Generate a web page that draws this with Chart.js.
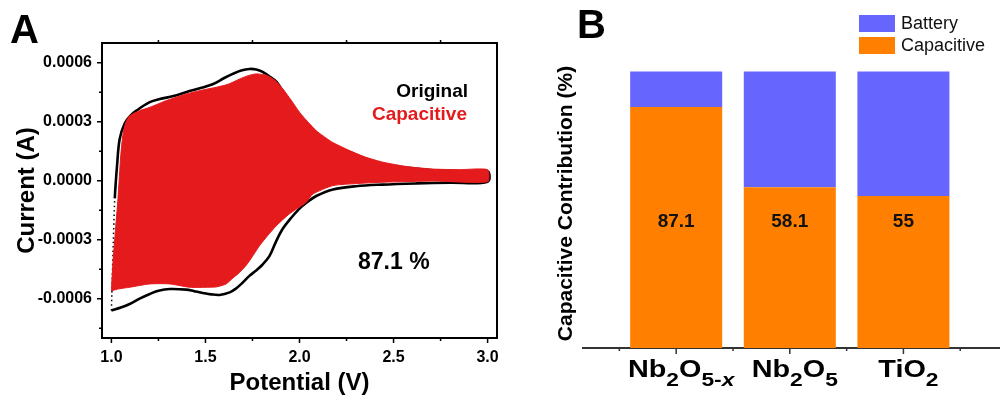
<!DOCTYPE html>
<html>
<head>
<meta charset="utf-8">
<script src="https://cdn.jsdelivr.net/npm/chart.js@4.4.1/dist/chart.umd.min.js"></script>
<style>
  html, body { margin: 0; padding: 0; background: #fff; }
  #wrap { position: relative; width: 1000px; height: 399px; overflow: hidden; }
  canvas { position: absolute; top: 0; }
  #cvA { left: 0; }
  #cvB { left: 510px; }
</style>
</head>
<body>
<div id="wrap">
  <canvas id="cvA" width="510" height="399"></canvas>
  <canvas id="cvB" width="490" height="399"></canvas>
</div>
<script>
// Panel A - CV loop: measured (original) current and the capacitive part
const origPotential = [1.000, 1.006, 1.012, 1.018, 1.030, 1.044, 1.071, 1.100, 1.133, 1.204, 1.257, 1.330, 1.400,
  1.470, 1.538, 1.600, 1.645, 1.690, 1.735, 1.770, 1.804, 1.840, 1.878, 1.920, 1.963, 2.010, 2.054, 2.107, 2.180,
  2.266, 2.350, 2.442, 2.530, 2.622, 2.710, 2.798, 2.900, 3.000,
  3.000, 2.800, 2.620, 2.440, 2.300, 2.178, 2.089, 2.040, 2.000, 1.955, 1.910, 1.875, 1.840, 1.800, 1.765, 1.735,
  1.691, 1.660, 1.629, 1.575, 1.530, 1.487, 1.440, 1.398, 1.310, 1.250, 1.204, 1.150, 1.097, 1.050, 1.000];
const origCurrent = [-0.00066, -0.00045, -0.00025, -0.00009, 0.000076, 0.000212, 0.000292, 0.00033, 0.000356,
  0.000399, 0.000415, 0.00043, 0.000451, 0.00047, 0.00049, 0.000522, 0.000543, 0.00056, 0.000568, 0.000565,
  0.000553, 0.00053, 0.000502, 0.00044, 0.00038, 0.00032, 0.000278, 0.000227, 0.00018, 0.000146, 0.000112,
  0.000085, 0.00007, 0.00006, 0.000053, 0.000049, 0.000048, 0.000048,
  -0.000005, -0.00001, -0.000014, -0.00002, -0.000028, -0.000045, -0.000078, -0.00011, -0.000142, -0.00019,
  -0.000246, -0.00031, -0.000384, -0.00043, -0.00046, -0.000483, -0.000525, -0.00055, -0.000568, -0.000581,
  -0.000578, -0.000571, -0.000562, -0.000554, -0.000551, -0.00056, -0.000576, -0.0006, -0.000627, -0.000645, -0.00066];

const capPotential = [1.000, 1.008, 1.020, 1.035, 1.050, 1.062, 1.078, 1.097, 1.150, 1.204, 1.300, 1.398, 1.480,
  1.558, 1.620, 1.682, 1.730, 1.770, 1.824, 1.870, 1.912, 1.955, 2.000, 2.045, 2.089, 2.170, 2.266, 2.350, 2.443,
  2.570, 2.709, 2.850, 3.000,
  3.000, 2.720, 2.443, 2.300, 2.178, 2.071, 2.036, 1.946, 1.877, 1.830, 1.788, 1.750, 1.717, 1.680, 1.646, 1.610,
  1.560, 1.522, 1.416, 1.310, 1.204, 1.097, 1.040, 1.000];
const capCurrent = [-0.00056, -0.00042, -0.00027, -0.00009, 0.00013, 0.00024, 0.0003, 0.00033, 0.000356, 0.000373,
  0.00041, 0.000441, 0.00046, 0.000475, 0.00049, 0.000517, 0.000535, 0.000543, 0.000536, 0.00051, 0.000466,
  0.00041, 0.000348, 0.000298, 0.000254, 0.000198, 0.000153, 0.00012, 0.000094, 0.000072, 0.000059, 0.000056,
  0.000056,
  -0.000006, -0.000002, -0.000008, -0.000015, -0.000025, -0.000068, -0.00011, -0.000169, -0.000229, -0.00028,
  -0.00033, -0.000385, -0.00043, -0.000468, -0.000495, -0.000525, -0.00054, -0.000542, -0.000542, -0.000525,
  -0.000525, -0.000542, -0.00055, -0.00056];

const potentialTicks = [1.0, 1.5, 2.0, 2.5, 3.0];
const currentTicks = [-0.0006, -0.0003, 0, 0.0003, 0.0006];

// Panel B - share of capacitive vs battery-type charge storage (%)
const materials = ['Nb2O5-x', 'Nb2O5', 'TiO2'];
const capacitive = [87.1, 58.1, 55];
const battery = [12.9, 41.9, 45];

const FONT = "'Liberation Sans', Arial, Helvetica, sans-serif";
const RED = '#E41A1C';
const ORANGE = '#FF8000';
const BLUE = '#6666FF';

Chart.defaults.font.family = FONT;
Chart.defaults.color = '#000';

const zipXY = (xs, ys) => xs.map((x, i) => ({x, y: ys[i]}));

// minor ticks halfway between the labelled ones
function minorTicks(major, min, max) {
  const step = major[1] - major[0];
  const out = [];
  for (let v = major[0] - step / 2; v <= max + 1e-12; v += step) {
    if (v >= min - 1e-12 && !major.some(m => Math.abs(m - v) < step / 10)) out.push(v);
  }
  return out;
}

const frameA = {
  id: 'frameA',
  afterDatasetsDraw(chart) {
    const {ctx, chartArea: a, scales: {x, y}} = chart;
    ctx.save();
    ctx.strokeStyle = '#000';
    ctx.lineWidth = 2;
    ctx.strokeRect(a.left, a.top, a.right - a.left, a.bottom - a.top);

    ctx.lineWidth = 1.5;
    ctx.beginPath();
    potentialTicks.forEach(v => {
      const px = x.getPixelForValue(v);
      ctx.moveTo(px, a.bottom); ctx.lineTo(px, a.bottom + 5);
    });
    minorTicks(potentialTicks, x.min, x.max).forEach(v => {
      const px = x.getPixelForValue(v);
      ctx.moveTo(px, a.bottom); ctx.lineTo(px, a.bottom + 3);
      ctx.moveTo(px, a.top); ctx.lineTo(px, a.top - 3);
    });
    currentTicks.forEach(v => {
      const py = y.getPixelForValue(v);
      ctx.moveTo(a.left, py); ctx.lineTo(a.left - 5, py);
    });
    minorTicks(currentTicks, y.min, y.max).forEach(v => {
      const py = y.getPixelForValue(v);
      ctx.moveTo(a.left, py); ctx.lineTo(a.left - 3, py);
    });
    ctx.stroke();
    ctx.restore();
  },
  afterDraw(chart) {
    const {ctx} = chart;
    ctx.save();
    ctx.textBaseline = 'alphabetic';
    ctx.fillStyle = '#000';
    ctx.font = `bold 40px ${FONT}`;
    ctx.textAlign = 'left';
    ctx.fillText('A', 10, 43);

    ctx.font = `bold 19px ${FONT}`;
    ctx.textAlign = 'right';
    ctx.fillText(chart.data.datasets[1].label, 468, 97);
    ctx.fillStyle = RED;
    ctx.fillText(chart.data.datasets[0].label, 467, 120);

    ctx.fillStyle = '#000';
    ctx.font = `bold 23px ${FONT}`;
    ctx.textAlign = 'left';
    ctx.fillText(`${capacitive[0]} %`, 358, 269);
    ctx.restore();
  }
};

new Chart(document.getElementById('cvA'), {
  type: 'line',
  data: {
    datasets: [
      {
        label: 'Capacitive',
        data: zipXY(capPotential, capCurrent),
        borderColor: RED,
        borderWidth: 1,
        backgroundColor: RED,
        fill: 'shape',
        tension: 0.2,
        pointRadius: 0
      },
      {
        label: 'Original',
        data: zipXY(origPotential, origCurrent),
        borderColor: '#000',
        borderWidth: 2.6,
        fill: false,
        tension: 0.35,
        pointRadius: 0,
        segment: {
          // the steep vertex at 1.0 V is only sparsely sampled
          borderDash: c => (c.p0.parsed.x < 1.02 && c.p1.parsed.x < 1.02) ? [1.5, 3] : undefined,
          borderWidth: c => (c.p0.parsed.x < 1.02 && c.p1.parsed.x < 1.02) ? 1.5 : undefined
        }
      }
    ]
  },
  options: {
    responsive: false,
    animation: false,
    layout: {padding: {top: 43, right: 13, left: 0, bottom: 0}},
    plugins: {legend: {display: false}, tooltip: {enabled: false}},
    scales: {
      x: {
        type: 'linear',
        min: 0.95,
        max: 3.05,
        afterBuildTicks: s => { s.ticks = potentialTicks.map(v => ({value: v})); },
        afterFit: s => { s.height = 61; },
        ticks: {font: {size: 16, weight: 'bold'}, color: '#000', padding: 5, maxRotation: 0,
          callback: v => v.toFixed(1)},
        grid: {display: true, drawOnChartArea: false, tickLength: 5, tickColor: 'rgba(0,0,0,0)'},
        border: {display: false},
        title: {display: true, text: 'Potential (V)', color: '#000',
          font: {size: 24, weight: 'bold'}, padding: {top: 0, bottom: 1}}
      },
      y: {
        type: 'linear',
        min: -0.0008,
        max: 0.0007,
        afterBuildTicks: s => { s.ticks = currentTicks.map(v => ({value: v})); },
        afterFit: s => { s.width = 102; },
        ticks: {font: {size: 16, weight: 'bold'}, color: '#000', padding: 5,
          callback: v => (Math.abs(v) < 1e-12 ? 0 : v).toFixed(4)},
        grid: {display: true, drawOnChartArea: false, tickLength: 5, tickColor: 'rgba(0,0,0,0)'},
        border: {display: false},
        title: {display: true, text: 'Current (A)', color: '#000',
          font: {size: 24, weight: 'bold'}, padding: {top: 12.5, bottom: 0}}
      }
    }
  },
  plugins: [frameA]
});

// chemical formula -> runs of normal / subscript text ("Nb2O5-x")
function formulaParts(s) {
  const parts = [];
  let sub = false;
  for (const ch of s) {
    if (/[0-9]/.test(ch)) sub = true;
    else if (!(sub && /[-x]/.test(ch))) sub = false;
    const italic = ch === 'x';
    const last = parts[parts.length - 1];
    if (last && last.sub === sub && last.italic === italic) last.text += ch;
    else parts.push({text: ch, sub, italic});
  }
  return parts;
}

const partFont = p => `${p.italic ? 'italic ' : ''}bold ${p.sub ? 19 : 24}px ${FONT}`;

const decorB = {
  id: 'decorB',
  afterDraw(chart) {
    const {ctx, chartArea: a, scales: {x, y}} = chart;
    ctx.save();

    // axis tick marks
    ctx.strokeStyle = '#333';
    ctx.lineWidth = 1.5;
    ctx.beginPath();
    materials.forEach((m, i) => {
      const px = x.getPixelForValue(i + 1);
      ctx.moveTo(px, a.bottom); ctx.lineTo(px, a.bottom + 6);
    });
    for (let i = 0; i <= materials.length; i++) {
      const px = x.getPixelForValue(i + 0.5);
      ctx.moveTo(px, a.bottom); ctx.lineTo(px, a.bottom + 3);
    }
    ctx.stroke();

    // category labels with subscripts
    ctx.fillStyle = '#000';
    ctx.textAlign = 'left';
    ctx.textBaseline = 'alphabetic';
    const stretch = 1.2;
    materials.forEach((m, i) => {
      const parts = formulaParts(m);
      let w = 0;
      parts.forEach(p => { ctx.font = partFont(p); p.w = ctx.measureText(p.text).width; w += p.w; });
      const cx = x.getPixelForValue(i + 1) + 5;
      ctx.save();
      ctx.translate(cx - w * stretch / 2, 377);
      ctx.scale(stretch, 1);
      let off = 0;
      parts.forEach(p => {
        ctx.font = partFont(p);
        ctx.fillText(p.text, off, p.sub ? 9 : 0);
        off += p.w;
      });
      ctx.restore();
    });

    // capacitive percentage inside each bar
    ctx.font = `bold 19px ${FONT}`;
    ctx.textAlign = 'center';
    ctx.textBaseline = 'middle';
    ctx.fillStyle = '#111';
    capacitive.forEach((v, i) => {
      ctx.fillText(String(v), x.getPixelForValue(i + 1), y.getPixelForValue(45.5));
    });

    // legend, top series first
    ctx.font = `18px ${FONT}`;
    ctx.textAlign = 'left';
    const sets = chart.data.datasets.slice().reverse();
    sets.forEach((ds, i) => {
      const top = 15 + i * 22;
      ctx.fillStyle = ds.backgroundColor;
      ctx.fillRect(349, top, 36, 17);
      ctx.fillStyle = '#111';
      ctx.fillText(ds.label, 391, top + 9);
    });

    ctx.font = `bold 40px ${FONT}`;
    ctx.textBaseline = 'alphabetic';
    ctx.fillStyle = '#000';
    ctx.fillText('B', 67, 38);
    ctx.restore();
  }
};

new Chart(document.getElementById('cvB'), {
  type: 'bar',
  data: {
    datasets: [
      {label: 'Capacitive', data: materials.map((m, i) => ({x: i + 1, y: capacitive[i]})),
        backgroundColor: ORANGE, borderWidth: 0},
      {label: 'Battery', data: materials.map((m, i) => ({x: i + 1, y: battery[i]})),
        backgroundColor: BLUE, borderWidth: 0}
    ]
  },
  options: {
    responsive: false,
    animation: false,
    layout: {padding: {top: 59, right: 0, left: 0, bottom: 0}},
    datasets: {bar: {barPercentage: 0.81, categoryPercentage: 1}},
    plugins: {legend: {display: false}, tooltip: {enabled: false}},
    scales: {
      x: {
        type: 'linear',
        stacked: true,
        offset: false,
        min: 0.18,
        max: 3.85,
        afterBuildTicks: s => { s.ticks = materials.map((m, i) => ({value: i + 1})); },
        afterFit: s => { s.height = 51; },
        ticks: {display: false},
        grid: {display: false, offset: false},
        border: {display: true, color: '#333', width: 2}
      },
      y: {
        stacked: true,
        min: 0,
        max: 104.5,
        afterFit: s => { s.width = 73; },
        ticks: {display: false},
        grid: {display: false},
        border: {display: false},
        title: {display: true, text: 'Capacitive Contribution (%)', color: '#000',
          font: {size: 21, weight: 'bold'}, padding: {top: 43.4, bottom: 0}}
      }
    }
  },
  plugins: [decorB]
});
</script>
</body>
</html>
